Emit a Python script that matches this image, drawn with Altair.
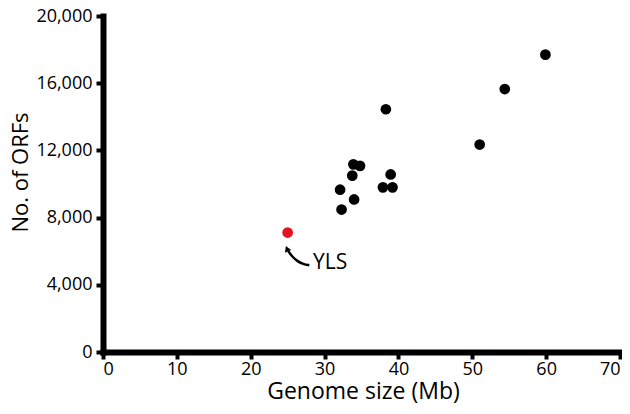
import altair as alt
import pandas as pd

# Data
genome_mb = [59.9, 54.4, 38.3, 51.0, 33.9, 34.8, 33.75, 38.95, 37.9, 39.2, 32.1, 34.0, 32.3]
orf_count = [17700, 15650, 14450, 12350, 11170, 11080, 10500, 10570, 9800, 9800, 9660, 9080, 8480]
yls_mb = [25.0]
yls_orfs = [7110]
x_ticks = [0, 10, 20, 30, 40, 50, 60, 70]
y_ticks = [0, 4000, 8000, 12000, 16000, 20000]

# annotation (arrow and label) positions in data units
arrow_x = [27.93, 27.12, 26.23, 25.55, 25.09]
arrow_y = [5168, 5226, 5424, 5714, 6005]
head_x = [24.91]
head_y = [6150]
label_text = ["YLS"]
label_x = [28.43]
label_y = [4919]

FONT = "Open Sans"

xs = alt.Scale(domain=[0, 70], nice=False)
ys = alt.Scale(domain=[0, 20000], nice=False)

x_title = "Genome size (Mb)"
y_title = "No. of ORFs"


def enc_x():
    return alt.X("x:Q", scale=xs, title=x_title,
                 axis=alt.Axis(values=x_ticks, format="d", labelPadding=1, titleX=260,
                               titleY=46, titleBaseline="alphabetic",
                               titleAlign="center", titleFontSize=23))


def enc_y():
    return alt.Y("y:Q", scale=ys, title=y_title,
                 axis=alt.Axis(values=y_ticks, format=",d", labelPadding=4,
                               titleX=-76, titleY=156,
                               titleBaseline="alphabetic", titleAlign="center",
                               titleAngle=270, titleFontSize=22))


pts = pd.DataFrame({"x": genome_mb, "y": orf_count})
red = pd.DataFrame({"x": yls_mb, "y": yls_orfs})
arrow = pd.DataFrame({"x": arrow_x, "y": arrow_y, "o": list(range(len(arrow_x)))})
head = pd.DataFrame({"x": head_x, "y": head_y})
lab = pd.DataFrame({"x": label_x, "y": label_y, "t": label_text})

points = alt.Chart(pts).mark_circle(size=115, opacity=1, color="black").encode(x=enc_x(), y=enc_y())
red_pt = alt.Chart(red).mark_circle(size=115, opacity=1, color="#e2141f").encode(x=enc_x(), y=enc_y())
arrow_line = alt.Chart(arrow).mark_line(color="black", strokeWidth=2.5, interpolate="basis").encode(
    x=enc_x(), y=enc_y(), order="o:Q")
arrow_head = alt.Chart(head).mark_point(shape="triangle-up", filled=True, size=45, angle=338,
                                        color="black", opacity=1).encode(x=enc_x(), y=enc_y())
label = alt.Chart(lab).mark_text(align="left", baseline="alphabetic", font=FONT, fontSize=21,
                                 color="black").encode(x=enc_x(), y=enc_y(), text="t:N")

chart = alt.layer(points, red_pt, arrow_line, arrow_head, label).properties(
    width=517, height=336,
    padding={"left": 95, "top": 8, "right": 2, "bottom": 54},
    autosize=alt.AutoSizeParams(type="none"),
).configure_view(strokeWidth=0).configure_axis(
    grid=False,
    domainColor="black", domainWidth=6, domainCap="square",
    tickColor="black", tickWidth=4, tickSize=7,
    labelFont=FONT, labelFontSize=18, labelColor="black",
    titleFont=FONT, titleColor="black", titleFontWeight="normal",
)

chart.save("out.html", embed_options={"renderer": "svg", "actions": False})
